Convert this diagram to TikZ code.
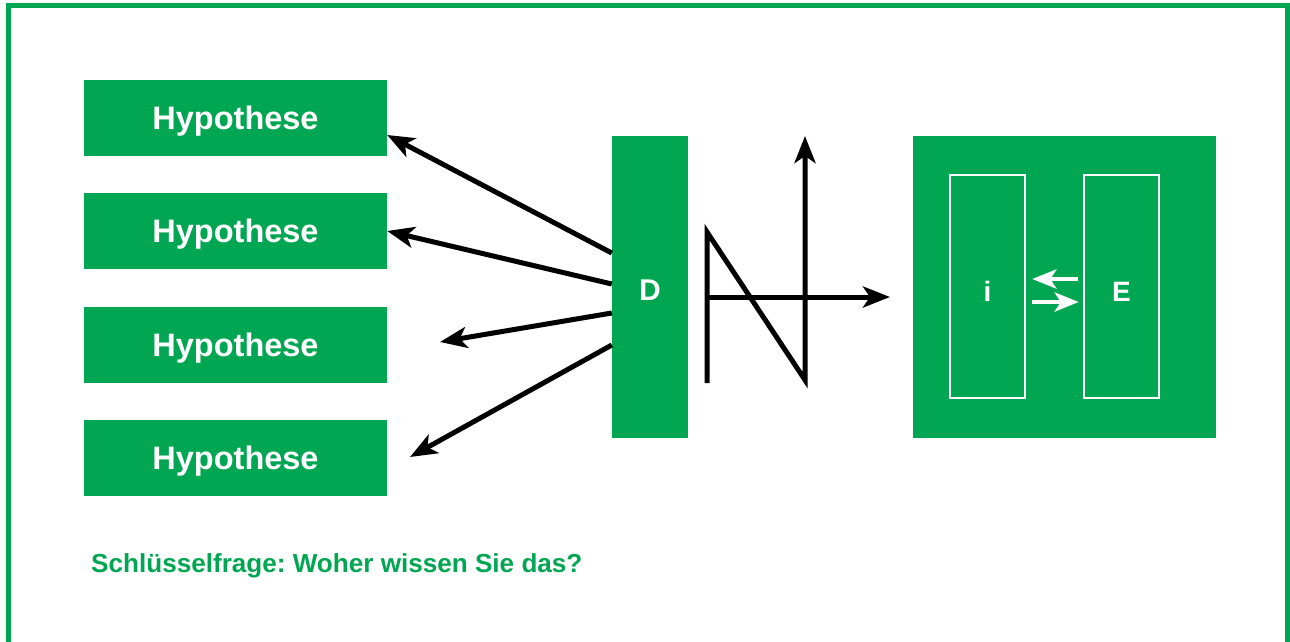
\documentclass[tikz,border=0pt]{standalone}
\usepackage{fontspec}
\setmainfont{Liberation Sans}
\usetikzlibrary{arrows.meta,calc}
\definecolor{frog}{RGB}{0,166,81}
\begin{document}
\frenchspacing
\begin{tikzpicture}[x=1pt,y=-1pt,
  hyp/.style={fill=frog,minimum width=303pt,minimum height=76pt,inner sep=0pt,
    text height=22pt,text depth=0pt,
    text=white,font=\bfseries\fontsize{32.5}{38}\selectfont},
  tall/.style={fill=frog,minimum height=302pt,inner sep=0pt,text=white},
  inbox/.style={draw=white,line width=2.5pt,minimum width=75pt,minimum height=223pt,inner sep=0pt,
    text height=29pt,text depth=0pt,
    text=white,font=\bfseries\fontsize{28}{32}\selectfont},
  blk/.style={line width=5pt,-{Stealth[length=27pt,width=21pt,inset=7pt]}},
  wht/.style={draw=white,line width=4.5pt,-{Stealth[length=24pt,width=19pt,inset=6pt]}}]
\useasboundingbox (0,0) rectangle (1290,641);
\clip (0,0) rectangle (1290,641);
% frame
\draw[frog,line width=5.5pt] (8.5,660) -- (8.5,5.5) -- (1287.5,5.5) -- (1287.5,660);
% hypotheses
\node[hyp] (h1) at (235.5,118) {Hypothese};
\node[hyp] (h2) at (235.5,231) {Hypothese};
\node[hyp] (h3) at (235.5,345) {Hypothese};
\node[hyp] (h4) at (235.5,458) {Hypothese};
% D
\node[tall,minimum width=76pt,text height=26.5pt,text depth=0pt,
  font=\bfseries\fontsize{30}{34}\selectfont] (D) at (650,287) {D};
% right box
\node[tall,minimum width=303pt] (R) at (1064.5,287) {};
\node[inbox] (i) at (987.5,286.5) {i};
\node[inbox] (E) at (1121.5,286.5) {E};
% arrows from D
\coordinate (t3) at (440,342);
\coordinate (t4) at (410,457);
\draw[blk] ($(D.west)+(0,-34)$) -- ($(h1.east)+(0,17)$);
\draw[blk] ($(D.west)+(0,-3)$) -- (h2.east);
\draw[blk] ($(D.west)+(0,26)$) -- (t3);
\draw[blk] ($(D.west)+(0,58)$) -- (t4);
% N shape
\coordinate (n1) at (707,383);
\coordinate (n2) at (707,232);
\coordinate (n3) at (805,380);
\coordinate (n4) at (805,136);
\coordinate (m1) at (707,297);
\coordinate (m2) at (890,297);
\draw[blk] (n1) -- (n2) -- (n3) -- (n4);
\draw[blk] (m1) -- (m2);
% white arrows
\draw[wht] ($(E.west)+(-5,-7.5)$) -- ($(i.east)+(6,-7.5)$);
\draw[wht] ($(i.east)+(6,15.5)$) -- ($(E.west)+(-4,15.5)$);
% key question
\node[anchor=base west,inner sep=0pt,text=frog,font=\bfseries\fontsize{26.1}{30}\selectfont] (q) at (91,572) {Schlüsselfrage: Woher wissen Sie das?};
\end{tikzpicture}
\end{document}
